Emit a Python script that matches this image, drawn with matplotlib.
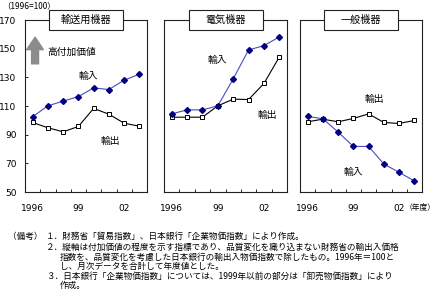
import matplotlib
matplotlib.use("Agg")
import matplotlib.pyplot as plt
from matplotlib.patches import Rectangle

plt.rcParams['font.family'] = ['Noto Sans CJK JP', 'DejaVu Sans']

years = [1996, 1997, 1998, 1999, 2000, 2001, 2002, 2003]
xtick_labels = ["1996", "", "", "99", "", "", "02", ""]
titles = ["輸送用機器", "電気機器", "一般機器"]

transport_import = [102.5, 110.1, 113.4, 116.6, 122.6, 121.5, 128.0, 132.2]
transport_export = [98.5, 94.8, 92.0, 95.7, 108.3, 104.3, 98.0, 95.9]
electric_import = [104.5, 107.3, 107.3, 110.1, 128.9, 149.1, 152.1, 158.2]
electric_export = [102.2, 102.2, 102.2, 110.1, 114.8, 114.5, 125.7, 144.2]
general_import = [102.7, 101.1, 91.8, 81.8, 81.8, 69.5, 63.7, 57.7]
general_export = [99.0, 100.8, 99.0, 101.3, 104.5, 98.5, 97.8, 99.9]

imports = [transport_import, electric_import, general_import]
exports = [transport_export, electric_export, general_export]

# label positions (category index, value)
imp_lbl = [(3.63, 130.9), (3.0, 142.0), (2.98, 63.9)]
exp_lbl = [(5.07, 85.6), (6.2, 103.7), (4.4, 114.9)]

fig = plt.figure(figsize=(4.36, 3.02), dpi=100)
lefts = [25/436, 164/436, 300/436]
widths = [122/436, 123/436, 122/436]
bottom = 1 - 192/302
height = 172/302

xs = list(range(len(years)))
for i in range(3):
    ax = fig.add_axes([lefts[i], bottom, widths[i], height])
    ax.plot(xs, exports[i], color='black', lw=0.8, marker='s', ms=3.5,
            mfc='white', mec='black', mew=0.7, zorder=3)
    ax.plot(xs, imports[i], color='#4a4ac8', lw=0.8, marker='D', ms=3,
            mfc='#000080', mec='#000080', zorder=4)
    ax.set_xlim(-0.5, len(years) - 0.5)
    ax.set_ylim(50, 170)
    for s in ax.spines.values():
        s.set_linewidth(0.8)
        s.set_color('#222222')
    ax.set_xticks([x + 0.5 for x in xs[:-1]], minor=False)
    ax.set_xticklabels([])
    ax.tick_params(axis='x', direction='in', length=2.5, width=0.6)
    for x, lab in zip(xs, xtick_labels):
        if lab:
            ax.text(x, -0.095, lab, transform=ax.get_xaxis_transform(),
                    ha='center', va='center', fontsize=6.5, family='DejaVu Sans')
    if i == 0:
        ax.set_yticks(range(50, 171, 20))
        ax.tick_params(axis='y', direction='in', length=2, width=0.6,
                       labelsize=6.5, pad=6)
        for t in ax.get_yticklabels():
            t.set_family('DejaVu Sans')
    else:
        ax.set_yticks([])
    bw = 74 / (widths[i] * 436)
    bh = 20 / 172
    ax.add_patch(Rectangle((0.5 - bw/2, 1 - bh/2), bw, bh, transform=ax.transAxes,
                           fc='white', ec='#222222', lw=0.8, zorder=9, clip_on=False))
    ax.text(0.5, 1.0, titles[i], transform=ax.transAxes, ha='center',
            va='center', fontsize=7.3, zorder=10, clip_on=False)
    ax.text(imp_lbl[i][0], imp_lbl[i][1], "輸入", ha='center', va='center', fontsize=7)
    ax.text(exp_lbl[i][0], exp_lbl[i][1], "輸出", ha='center', va='center', fontsize=7)
    if i == 0:
        ax.annotate("", xy=(0.16, 160), xytext=(0.16, 137.5),
                    arrowprops=dict(arrowstyle='simple,head_width=1.2,head_length=0.9,tail_width=0.5',
                                    fc='#8c8c8c', ec='#8c8c8c'))
        ax.text(0.95, 147.7, "高付加価値", ha='left', va='center', fontsize=7)
    if i == 2:
        ax.text(6.36, -0.095, "（年度）", transform=ax.get_xaxis_transform(),
                ha='left', va='center', fontsize=5.6, clip_on=False)

fig.text(2/436, 1 - 6/302, "（1996=100）", ha='left', va='center', fontsize=6)

notes_x0 = 8/436
num_x = 46/436
txt_x = 60/436
lines_y = [236, 247.5, 257, 266.5, 276, 285.5]
fs = 6.2
fig.text(notes_x0, 1 - lines_y[0]/302, "（備考）", ha='left', va='center', fontsize=fs)
fig.text(num_x, 1 - lines_y[0]/302, "１．財務省「貿易指数」、日本銀行「企業物価指数」により作成。",
         ha='left', va='center', fontsize=fs)
fig.text(num_x, 1 - lines_y[1]/302, "２．縦軸は付加価値の程度を示す指標であり、品質変化を織り込まない財務省の輸出入価格",
         ha='left', va='center', fontsize=fs)
fig.text(txt_x, 1 - lines_y[2]/302, "指数を、品質変化を考慮した日本銀行の輸出入物価指数で除したもの。1996年＝100と",
         ha='left', va='center', fontsize=fs)
fig.text(txt_x, 1 - lines_y[3]/302, "し、月次データを合計して年度値とした。",
         ha='left', va='center', fontsize=fs)
fig.text(num_x, 1 - lines_y[4]/302, "３．日本銀行「企業物価指数」については、1999年以前の部分は「卸売物価指数」により",
         ha='left', va='center', fontsize=fs)
fig.text(txt_x, 1 - lines_y[5]/302, "作成。", ha='left', va='center', fontsize=fs)

fig.savefig("out.png", dpi=100)
